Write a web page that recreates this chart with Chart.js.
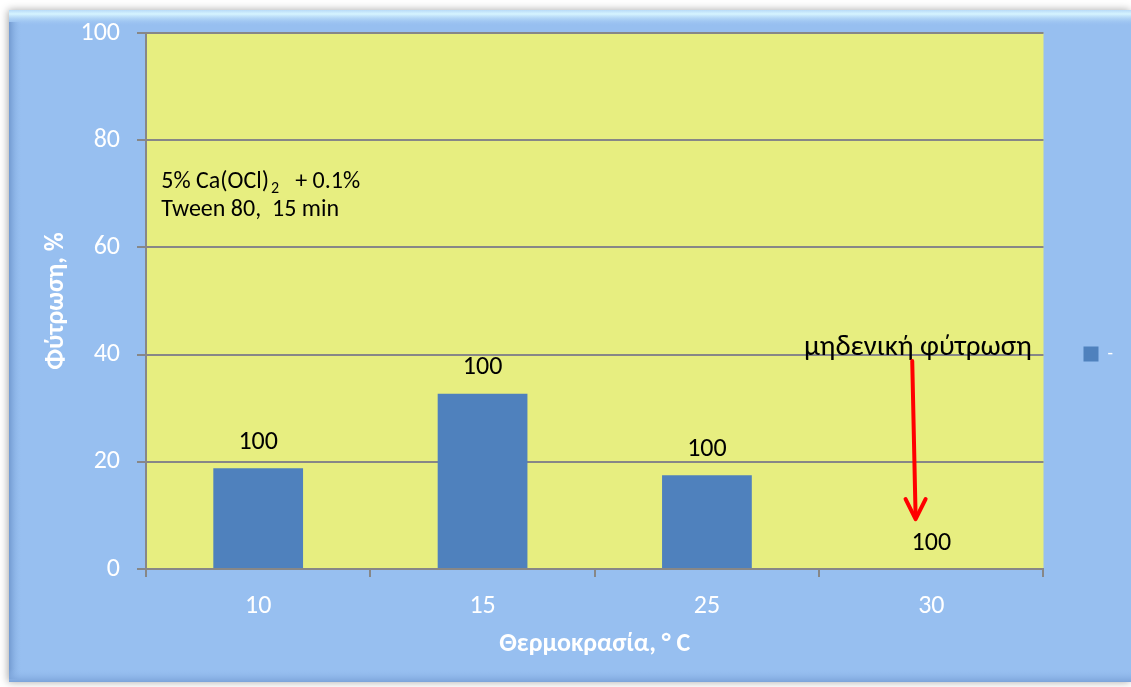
<!DOCTYPE html>
<html><head><meta charset="utf-8">
<script src="https://cdn.jsdelivr.net/npm/chart.js@4/dist/chart.umd.min.js"></script>
<style>html,body{margin:0;padding:0;background:#fff;overflow:hidden}#wrap{width:1131px;height:687px}</style>
</head><body><div id="wrap"><canvas id="c" width="1131" height="687"></canvas></div>
<script>
const categories = ['10', '15', '25', '30'];
const germination = [18.8, 32.7, 17.5, 0];
const barLabels = ['100', '100', '100', '100'];
const seriesName = '-';
const noteLine1 = '5% Ca(OCl)';
const noteSub = '2';
const noteLine1b = '+ 0.1%';
const noteLine2 = 'Tween 80,  15 min';
const arrowText = 'μηδενική φύτρωση';
const yTitle = 'Φύτρωση, %';
const xTitle = 'Θερμοκρασία, ° C';
// annotation anchors in data units (category index, percent)
const noteAnchor = [-0.432, 72.2];
const arrowTextAnchor = [2.94, 41.3];
const arrowStart = [2.915, 38.8];
const arrowEnd = [2.93, 9.3];

const FONT = "Carlito, Lato, 'Open Sans', sans-serif";
const GRID = '#878787';

const bgPlugin = {
  id: 'bg',
  beforeDraw(chart) {
    const ctx = chart.ctx, W = chart.width, H = chart.height;
    ctx.save();
    ctx.fillStyle = '#ffffff';
    ctx.fillRect(0, 0, W, H);
    ctx.shadowColor = 'rgba(0,0,0,0.35)';
    ctx.shadowBlur = 8;
    ctx.shadowOffsetX = -1;
    ctx.fillStyle = '#97bff0';
    ctx.fillRect(9, 10, W - 9, H - 15);
    ctx.shadowColor = 'transparent';
    const g = ctx.createLinearGradient(0, 10, 0, 26);
    g.addColorStop(0, '#b8daf8');
    g.addColorStop(0.25, '#d6f4ff');
    g.addColorStop(1, 'rgba(151,191,240,0)');
    ctx.fillStyle = g;
    ctx.fillRect(9, 10, W - 9, 16);
    const g2 = ctx.createLinearGradient(9, 0, 22, 0);
    g2.addColorStop(0, 'rgba(110,150,205,0.9)');
    g2.addColorStop(1, 'rgba(151,191,240,0)');
    ctx.fillStyle = g2;
    ctx.fillRect(9, 22, 13, H - 30);
    const g3 = ctx.createLinearGradient(0, H - 18, 0, H - 5);
    g3.addColorStop(0, 'rgba(151,191,240,0)');
    g3.addColorStop(1, 'rgba(120,160,215,0.9)');
    ctx.fillStyle = g3;
    ctx.fillRect(9, H - 18, W - 9, 13);
    const a = chart.chartArea;
    ctx.fillStyle = '#e7ee80';
    ctx.fillRect(a.left, a.top, a.right - a.left, a.bottom - a.top);
    ctx.restore();
  }
};

const annotPlugin = {
  id: 'annot',
  afterDatasetsDraw(chart) {
    const ctx = chart.ctx, xs = chart.scales.x, ys = chart.scales.y;
    ctx.save();
    // bar labels
    const meta = chart.getDatasetMeta(0);
    ctx.fillStyle = '#000';
    ctx.font = '26px ' + FONT;
    ctx.textAlign = 'center';
    ctx.textBaseline = 'middle';
    meta.data.forEach((bar, i) => {
      ctx.fillText(barLabels[i], bar.x, bar.y - 26);
    });
    // note
    const nx = xs.getPixelForValue(noteAnchor[0]);
    const ny = ys.getPixelForValue(noteAnchor[1]);
    ctx.textAlign = 'left';
    ctx.font = '24px ' + FONT;
    ctx.fillText(noteLine1, nx, ny);
    const w = ctx.measureText(noteLine1).width;
    ctx.font = '16px ' + FONT;
    ctx.fillText(noteSub, nx + w + 2, ny + 7);
    const w2 = ctx.measureText(noteSub).width;
    ctx.font = '24px ' + FONT;
    ctx.fillText(noteLine1b, nx + w + w2 + 18, ny);
    ctx.fillText(noteLine2, nx, ny + 28);
    // arrow text
    ctx.font = '29px ' + FONT;
    ctx.textAlign = 'center';
    ctx.fillText(arrowText, xs.getPixelForValue(arrowTextAnchor[0]), ys.getPixelForValue(arrowTextAnchor[1]));
    // arrow
    const x1 = xs.getPixelForValue(arrowStart[0]), y1 = ys.getPixelForValue(arrowStart[1]);
    const x2 = xs.getPixelForValue(arrowEnd[0]), y2 = ys.getPixelForValue(arrowEnd[1]);
    ctx.strokeStyle = '#ff0000';
    ctx.lineWidth = 4;
    ctx.lineCap = 'round';
    ctx.lineJoin = 'round';
    ctx.beginPath();
    ctx.moveTo(x1, y1); ctx.lineTo(x2, y2 - 3);
    ctx.stroke();
    ctx.beginPath();
    ctx.moveTo(x2 - 10, y2 - 20); ctx.lineTo(x2, y2); ctx.lineTo(x2 + 10, y2 - 20);
    ctx.stroke();
    ctx.restore();
  }
};

new Chart(document.getElementById('c'), {
  type: 'bar',
  data: {
    labels: categories,
    datasets: [{
      label: seriesName,
      data: germination,
      backgroundColor: '#4f81bd',
      borderWidth: 0,
      barPercentage: 0.4,
      categoryPercentage: 1
    }]
  },
  options: {
    responsive: false,
    devicePixelRatio: 1,
    animation: false,
    layout: { padding: { top: 33, left: 0, right: 8, bottom: 12 } },
    plugins: {
      tooltip: { enabled: false },
      legend: {
        position: 'right',
        fullSize: true,
        labels: {
          color: '#ffffff',
          font: { family: FONT, size: 18 },
          boxWidth: 15,
          boxHeight: 15,
          padding: 40
        }
      }
    },
    scales: {
      x: {
        afterFit(s) { s.height = 106; },
        grid: { display: true, drawOnChartArea: false, drawTicks: true, tickLength: 8, color: GRID, lineWidth: 2, offset: true },
        border: { display: true, color: GRID, width: 2 },
        ticks: { color: '#ffffff', font: { family: FONT, size: 26 }, padding: 14 },
        title: { display: true, text: xTitle, color: '#ffffff', font: { family: FONT, size: 26, weight: 'bold' }, padding: { top: 0, bottom: 15 } }
      },
      y: {
        min: 0, max: 100,
        afterFit(s) { s.width = 146; },
        grid: { color: GRID, lineWidth: 2, tickLength: 9 },
        border: { display: true, color: GRID, width: 2 },
        ticks: { stepSize: 20, color: '#ffffff', font: { family: FONT, size: 26 }, padding: 17 },
        title: { display: true, text: yTitle, color: '#ffffff', font: { family: FONT, size: 26, weight: 'bold' }, padding: { top: 41, bottom: 0 } }
      }
    }
  },
  plugins: [bgPlugin, annotPlugin]
});
</script>
</body></html>
